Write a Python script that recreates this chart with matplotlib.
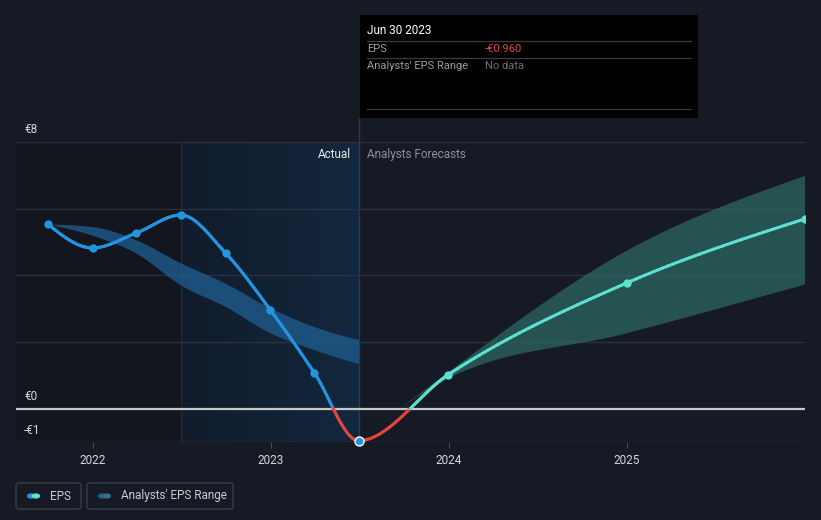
import matplotlib
matplotlib.use("Agg")
import matplotlib.pyplot as plt
import matplotlib.dates as mdates
from matplotlib.collections import LineCollection
from matplotlib.patches import Rectangle, FancyBboxPatch, Circle
from matplotlib.colors import LinearSegmentedColormap
import numpy as np
import pandas as pd

plt.rcParams['font.family'] = ['Roboto', 'DejaVu Sans']

# actual EPS (quarterly, trailing)
actual_dates = ["2021-09-30", "2021-12-31", "2022-03-31", "2022-06-30",
                "2022-09-30", "2022-12-31", "2023-03-31", "2023-06-30"]
actual_eps = [5.54, 4.82, 5.27, 5.81, 4.67, 2.96, 1.08, -0.96]

# past analyst estimate range
past_low = [5.54, 5.20, 4.66, 3.71, 3.06, 2.27, 1.77, 1.35]
past_high = [5.54, 5.46, 5.06, 4.37, 3.76, 3.02, 2.46, 2.07]

# forecast EPS
fc_dates = ["2023-06-30", "2023-12-31", "2024-12-31", "2025-12-31"]
fc_eps = [-0.96, 1.02, 3.77, 5.69]
fc_low = [-0.96, 0.93, 2.28, 3.74]
fc_high = [-0.96, 1.12, 4.76, 7.00]

year_ticks = ["2022", "2023", "2024", "2025"]
y_grid = [-1, 0, 2, 4, 6, 8]
y_labels = {8: "€8", 0: "€0", -1: "-€1"}

BG = "#151a24"
BLUE = "#2394df"
RED = "#e2453c"
TEAL = "#5ce1d0"
W, H = 821, 520


def monotone(x, y, n=40):
    # d3 curveMonotoneX style cubic hermite
    x = np.asarray(x, float); y = np.asarray(y, float)
    h = np.diff(x); s = np.diff(y) / h
    m = np.zeros(len(x))
    for i in range(1, len(x) - 1):
        p = (s[i - 1] * h[i] + s[i] * h[i - 1]) / (h[i - 1] + h[i])
        m[i] = (np.sign(s[i - 1]) + np.sign(s[i])) * min(abs(s[i - 1]), abs(s[i]), 0.5 * abs(p))
    if len(x) > 2:
        m[0] = (3 * s[0] - m[1]) / 2
        m[-1] = (3 * s[-1] - m[-2]) / 2
    else:
        m[0] = m[-1] = s[0]
    xs, ys = [], []
    for i in range(len(x) - 1):
        t = np.linspace(0, 1, n, endpoint=(i == len(x) - 2))
        h00 = 2 * t**3 - 3 * t**2 + 1
        h10 = t**3 - 2 * t**2 + t
        h01 = -2 * t**3 + 3 * t**2
        h11 = t**3 - t**2
        xs.append(x[i] + t * h[i])
        ys.append(h00 * y[i] + h10 * h[i] * m[i] + h01 * y[i + 1] + h11 * h[i] * m[i + 1])
    return np.concatenate(xs), np.concatenate(ys)


def fx(px):
    return px / W


def fy(py):
    return 1 - py / H


ad = mdates.date2num(pd.to_datetime(actual_dates))
fd = mdates.date2num(pd.to_datetime(fc_dates))

fig = plt.figure(figsize=(W / 100, H / 100), dpi=100, facecolor=BG)
ax = fig.add_axes([fx(16), fy(442), (805 - 16) / W, 300 / H])
ax.set_facecolor(BG)
x0 = mdates.date2num(pd.Timestamp("2021-07-27"))
x1 = mdates.date2num(pd.Timestamp("2026-01-01"))
ax.set_xlim(x0, x1)
ax.set_ylim(-1, 8)
for sp in ax.spines.values():
    sp.set_visible(False)

# background regions
split = mdates.date2num(pd.Timestamp("2022-06-30"))
now = ad[-1]
ax.fill_between([x0, split], -1, 8, color="#13161e", zorder=0, lw=0)
grad = np.linspace(0, 1, 256).reshape(1, -1)
cmap = LinearSegmentedColormap.from_list("g", ["#111c2b", "#13273e"])
ax.imshow(grad, extent=[split, now, -1, 8], aspect="auto", cmap=cmap, zorder=0)
ax.axvline(split, color="#1d2c3e", lw=1, zorder=1)
ax.axvline(now, ymin=0, ymax=(442 - 118) / 300, color="#2a3a4e", lw=1, clip_on=False, zorder=1)

# grid
for g in y_grid:
    if g == 0:
        ax.axhline(g, color="#c8c8c8", lw=1.6, zorder=2)
    elif g == -1:
        ax.axhline(g, color="#454b55", lw=1, zorder=2)
    else:
        ax.axhline(g, color="#2c313b", lw=1, zorder=1)

# past analyst band
bx, bl = monotone(ad, past_low)
_, bh = monotone(ad, past_high)
ax.fill_between(bx, bl, bh, color="#1f5f92", alpha=0.75, lw=0, zorder=2)

# forecast band
fx_, fl = monotone(fd, fc_low)
_, fh = monotone(fd, fc_high)
ax.fill_between(fx_, fl, fh, color="#2f6a67", alpha=0.7, lw=0, zorder=2)

# EPS line: actual + forecast smoothed as one series
all_d = np.concatenate([ad, fd[1:]])
all_v = list(actual_eps) + list(fc_eps[1:])
cx, cy = monotone(all_d, all_v)
pts = np.column_stack([cx, cy]).reshape(-1, 1, 2)
segs = np.concatenate([pts[:-1], pts[1:]], axis=1)
midy = (cy[:-1] + cy[1:]) / 2
midx = (cx[:-1] + cx[1:]) / 2
cols = [RED if v < 0 else (BLUE if d <= now else TEAL) for d, v in zip(midx, midy)]
ax.add_collection(LineCollection(segs, colors=cols, linewidths=2.2, capstyle="round", zorder=4))

ax.scatter(ad[:-1], actual_eps[:-1], s=36, color=BLUE, zorder=5, clip_on=False, lw=0)
ax.scatter(ad[-1:], actual_eps[-1:], s=42, color=BLUE, edgecolor="white", lw=1, zorder=6, clip_on=False)
ax.scatter(fd[1:], fc_eps[1:], s=36, color=TEAL, zorder=5, lw=0)

# axes ticks
ticks = mdates.date2num(pd.to_datetime([y + "-01-01" for y in year_ticks]))
ax.set_xticks(ticks)
ax.set_xticklabels(year_ticks, color="#d5d8dc", fontsize=8.5)
ax.tick_params(axis="x", length=4, color="#454b55", pad=5)
ax.set_yticks([])

for v, lab in y_labels.items():
    ax.text(fx(24), fy(409 - v * 33.4 - 12), lab, transform=fig.transFigure,
            color="#d5d8dc", fontsize=8.5, va="center", ha="left")

fig.text(fx(351), fy(154), "Actual", color="#e8eaed", fontsize=8.5, ha="right", va="center")
fig.text(fx(367), fy(154), "Analysts Forecasts", color="#8a8f98", fontsize=8.5, ha="left", va="center")

# tooltip
fig.patches.append(Rectangle((fx(360), fy(118)), (698 - 360) / W, (118 - 15) / H,
                             transform=fig.transFigure, facecolor="#000000", edgecolor="none", zorder=10))
for yy in (41, 58, 109):
    fig.lines.append(plt.Line2D([fx(367), fx(691)], [fy(yy), fy(yy)], transform=fig.transFigure,
                                color="#3a3d42", lw=0.9, zorder=11))
fig.text(fx(367), fy(31), "Jun 30 2023", color="white", fontsize=8.5, va="center", zorder=12)
fig.text(fx(367), fy(49), "EPS", color="#9a9ea4", fontsize=8, va="center", zorder=12)
fig.text(fx(485), fy(49), "-€0.960", color="#e8413c", fontsize=8, va="center", zorder=12)
fig.text(fx(367), fy(66), "Analysts' EPS Range", color="#9a9ea4", fontsize=8, va="center", zorder=12)
fig.text(fx(485), fy(66), "No data", color="#6c7078", fontsize=8, va="center", zorder=12)

# legend
for (lx, rx, c1, c2, label) in [(16, 81, BLUE, TEAL, "EPS"),
                                 (87, 233, "#1f5f92", "#2f7a74", "Analysts' EPS Range")]:
    fig.patches.append(FancyBboxPatch((fx(lx), fy(509)), (rx - lx) / W, 26 / H,
                                      boxstyle="round,pad=0,rounding_size=0.004",
                                      transform=fig.transFigure, facecolor="none",
                                      edgecolor="#3c414a", lw=0.9))
    cxp = lx + 17
    fig.patches.append(Circle((fx(cxp - 2), fy(496)), 4.2 / W, transform=fig.transFigure,
                              facecolor=c1, edgecolor="none"))
    fig.patches.append(Circle((fx(cxp + 3), fy(496)), 4.2 / W, transform=fig.transFigure,
                              facecolor=c2, edgecolor="none"))
    fig.text(fx(lx + 34), fy(496), label, color="#c8cbd0", fontsize=8.5, va="center", ha="left")

fig.savefig("out.png", dpi=100, facecolor=BG)
